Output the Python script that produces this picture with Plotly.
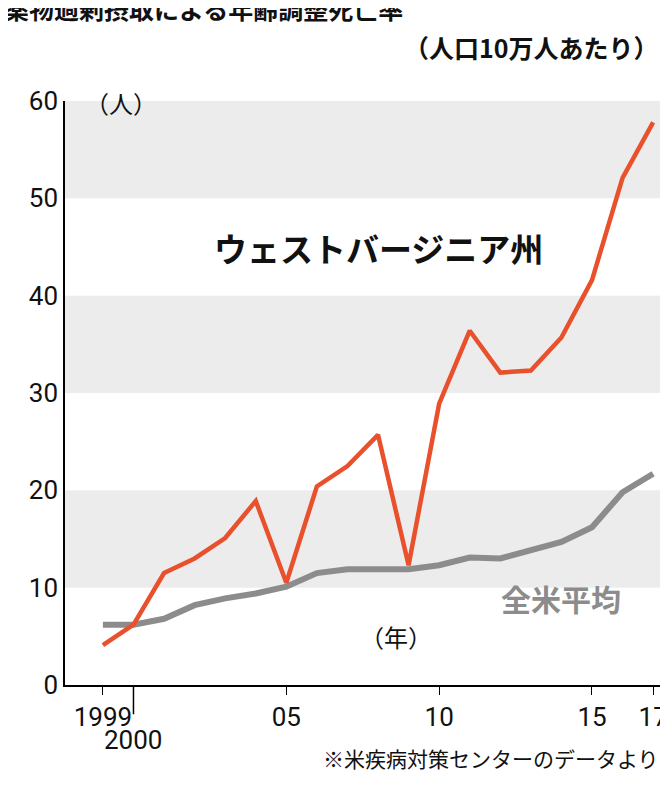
import plotly.graph_objects as go

years = list(range(1999, 2018))
wv = [4.1, 6.2, 11.5, 13.0, 15.1, 18.9, 10.5, 20.4, 22.5, 25.7, 12.3,
      28.9, 36.4, 32.1, 32.3, 35.7, 41.6, 52.1, 57.8]
us = [6.2, 6.2, 6.8, 8.2, 8.9, 9.4, 10.1, 11.5, 11.9, 11.9, 11.9,
      12.3, 13.1, 13.0, 13.8, 14.7, 16.2, 19.8, 21.7]
xtick_vals = [1999, 2005, 2010, 2015, 2017]
xtick_text = ["1999", "05", "10", "15", "17"]
ytick_vals = [0, 10, 20, 30, 40, 50, 60]

font = "Liberation Sans Narrow, Roboto, Noto Sans CJK JP"
jp = "Noto Sans CJK JP"

fig = go.Figure()

# 灰色の帯
shapes = []
for y0 in [10, 30, 50]:
    shapes.append(dict(type="rect", xref="paper", yref="y", x0=0, x1=1,
                       y0=y0, y1=y0 + 10, fillcolor="#ececec", line_width=0, layer="below"))
shapes.append(dict(type="line", xref="x", yref="paper", x0=2000, x1=2000,
                   y0=0, y1=-0.05, line=dict(color="black", width=1.5)))

fig.add_trace(go.Scatter(x=years, y=us, mode="lines",
                         line=dict(color="#8c8c8c", width=6), showlegend=False))
fig.add_trace(go.Scatter(x=years, y=wv, mode="lines",
                         line=dict(color="#e9502c", width=4.5), showlegend=False))

annotations = [
    dict(x=-0.087, y=1.16, xref="paper", yref="paper", xanchor="left", yanchor="top",
         text="<b>薬物過剰摂取による年齢調整死亡率</b>", font=dict(family=jp, size=25, color="#111")),
    dict(x=0.997, y=1.075, xref="paper", yref="paper", xanchor="right", yanchor="top",
         text="<b>（人口10万人あたり）</b>", font=dict(family=jp, size=25, color="#111")),
    dict(x=0.997, y=-0.205, xref="paper", yref="paper", xanchor="right", yanchor="bottom",
         text="※米疾病対策センターのデータより", font=dict(family=jp, size=21, color="#111")),
    dict(x=2008.0, y=44.9, text="<b>ウェストバージニア州</b>", showarrow=False,
         font=dict(family=jp, size=33, color="#111")),
    dict(x=2014.0, y=8.9, text="<b>全米平均</b>", showarrow=False,
         font=dict(family=jp, size=30, color="#8c8c8c")),
    dict(x=2008.6, y=5.0, text="（年）", showarrow=False,
         font=dict(family=jp, size=24, color="#111")),
    dict(x=1999.6, y=59.8, text="（人）", showarrow=False,
         font=dict(family=jp, size=24, color="#111")),
    dict(x=2000, y=0, yref="paper", yshift=-72, text="2000", showarrow=False,
         font=dict(family=font, size=26, color="#111")),
]

fig.update_layout(
    width=668, height=800,
    margin=dict(l=57, r=3, t=93, b=123),
    plot_bgcolor="white", paper_bgcolor="white",
    shapes=shapes, annotations=annotations,
    xaxis=dict(range=[1997.76, 2017.65], tickvals=xtick_vals, ticktext=xtick_text,
               showgrid=False, zeroline=False, showline=True, linecolor="black", linewidth=1.5,
               ticks="outside", ticklen=8, tickcolor="black",
               tickfont=dict(family=font, size=26, color="#111")),
    yaxis=dict(range=[0, 60], tickvals=ytick_vals, showgrid=False, zeroline=False,
               showline=True, linecolor="black", linewidth=1.5,
               ticks="", tickfont=dict(family=font, size=26, color="#111")),
)

fig.write_html("out.html")
